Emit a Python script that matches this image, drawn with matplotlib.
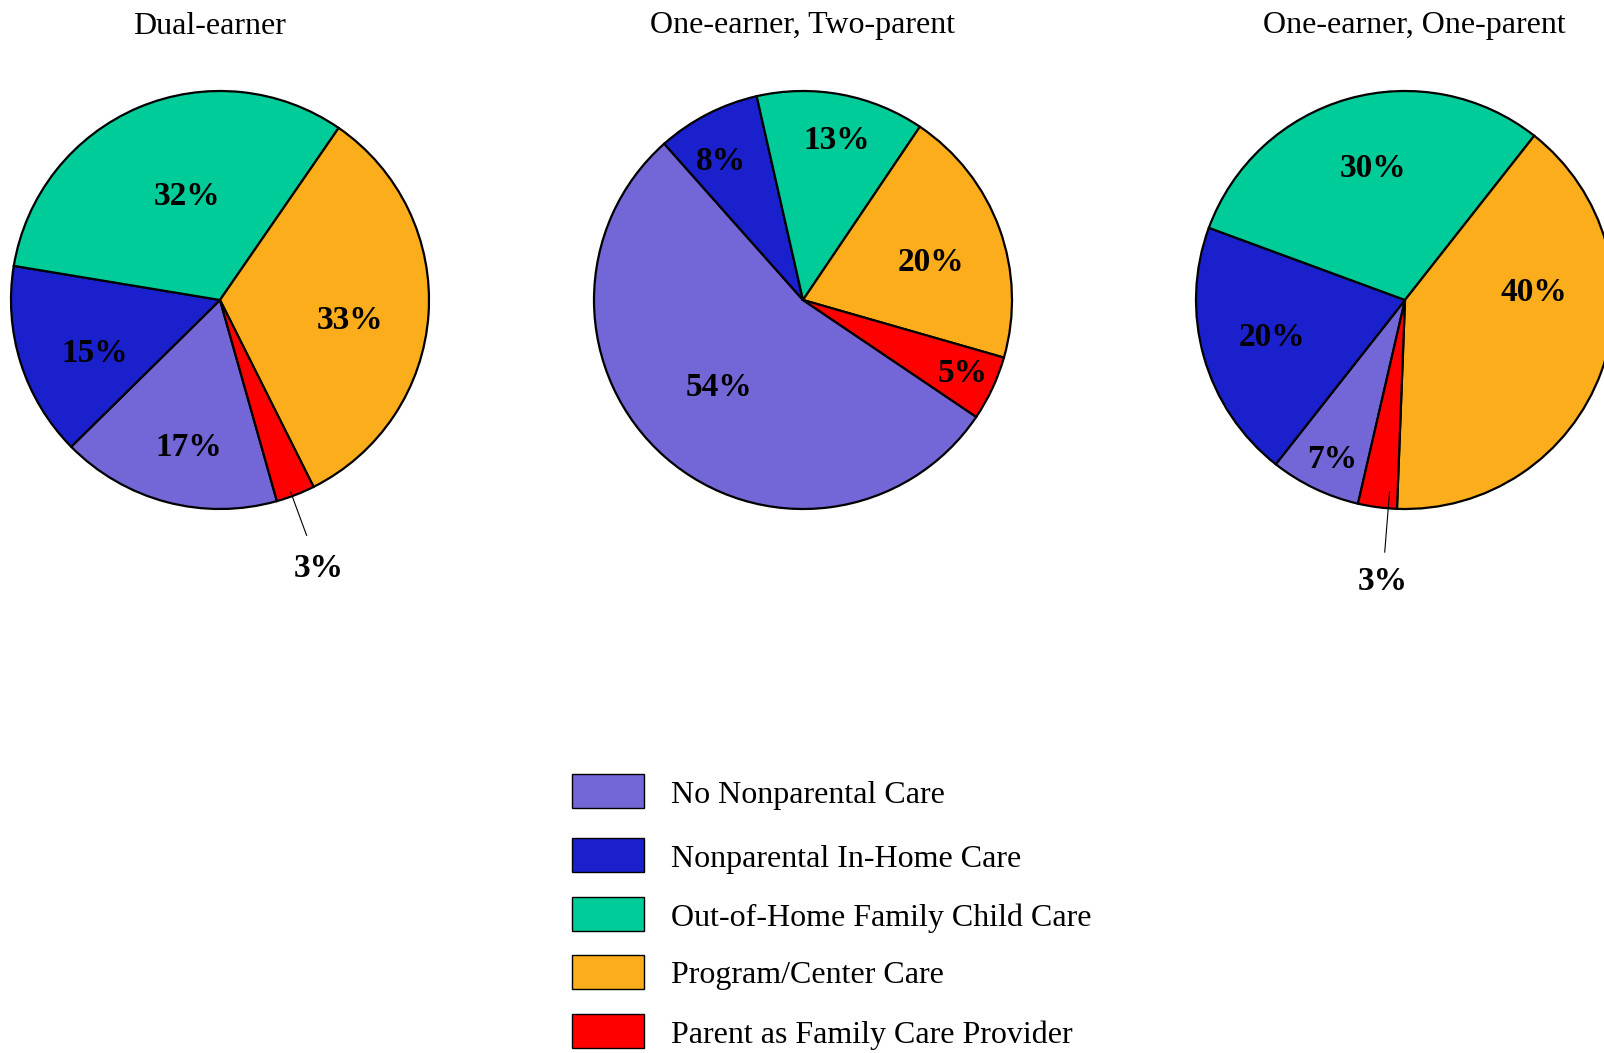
import numpy as np
import matplotlib
matplotlib.use("Agg")
import matplotlib.pyplot as plt
from matplotlib.patches import Rectangle

plt.rcParams["font.family"] = ["Liberation Serif", "DejaVu Serif"]

categories = [
    "No Nonparental Care",
    "Nonparental In-Home Care",
    "Out-of-Home Family Child Care",
    "Program/Center Care",
    "Parent as Family Care Provider",
]
colors = ["#7366d6", "#1a20cc", "#00cc99", "#fcad1c", "#ff0000"]

titles = ["Dual-earner", "One-earner, Two-parent", "One-earner, One-parent"]
dual_earner = [17, 15, 32, 33, 3]
one_earner_two_parent = [54, 8, 13, 20, 5]
one_earner_one_parent = [7, 20, 30, 40, 3]
series = [dual_earner, one_earner_two_parent, one_earner_one_parent]

# layout (pixels in a 1604x1053 figure)
W, H = 1604, 1053
centers = [(220, 300), (803, 300), (1405, 300)]
radius = 209
title_x = [210, 803, 1414]
start_angles = [-74.2, -34.0, -103.0]
# label placement: (angle nudge in degrees, distance from centre in radii)
label_pos = [
    [(2.7, 0.72), (5.5, 0.65), (-5.4, 0.52), (-4.9, 0.63), None],
    [(-2.4, 0.58), (3.3, 0.77), (-1.3, 0.78), (-3.6, 0.64), (0.4, 0.84)],
    [(1.1, 0.84), (0.0, 0.66), (-2.0, 0.65), (23.5, 0.62), None],
]
# (angle nudge, line start, line end, text) for slices labelled outside
outside = [(-1.0, 0.98, 1.2, 1.37), None, (3.0, 0.92, 1.21, 1.35)]

fig = plt.figure(figsize=(W / 100, H / 100), dpi=100, facecolor="white")

for i, values in enumerate(series):
    cx, cy = centers[i]
    ax = fig.add_axes([(cx - radius) / W, (H - cy - radius) / H, 2 * radius / W, 2 * radius / H])
    wedges, _ = ax.pie(
        values,
        colors=colors,
        startangle=start_angles[i],
        counterclock=False,
        radius=1.0,
        wedgeprops={"edgecolor": "black", "linewidth": 1.6},
    )
    ax.set_xlim(-1.0, 1.0)
    ax.set_ylim(-1.0, 1.0)
    ax.set_aspect("equal")
    ax.axis("off")
    for j, w in enumerate(wedges):
        mid = (w.theta1 + w.theta2) / 2
        pos = label_pos[i][j]
        if pos is None:
            nudge, r0, r1, rt = outside[i]
            a = np.deg2rad(mid + nudge)
            ax.plot([r0 * np.cos(a), r1 * np.cos(a)], [r0 * np.sin(a), r1 * np.sin(a)],
                    color="black", linewidth=0.8, clip_on=False)
            ax.text(rt * np.cos(a), rt * np.sin(a), f"{values[j]}%", ha="center", va="center",
                    fontsize=24, fontweight="bold", clip_on=False)
        else:
            nudge, d = pos
            a = np.deg2rad(mid + nudge)
            ax.text(d * np.cos(a), d * np.sin(a), f"{values[j]}%", ha="center", va="center",
                    fontsize=24, fontweight="bold")
    fig.text(title_x[i] / W, 1 - 26 / H, titles[i], ha="center", va="center", fontsize=23)

# legend drawn by hand in pixel coordinates
leg = fig.add_axes([0, 0, 1, 1])
leg.set_xlim(0, W)
leg.set_ylim(H, 0)
leg.axis("off")
row_y = [791, 855, 914, 972, 1031]
for k, label in enumerate(categories):
    leg.add_patch(Rectangle((572, row_y[k] - 17), 72, 34, facecolor=colors[k],
                            edgecolor="black", linewidth=1.0))
    leg.text(671, row_y[k] + 4, label, ha="left", va="center", fontsize=23)

fig.savefig("out.png", dpi=100, facecolor="white")
